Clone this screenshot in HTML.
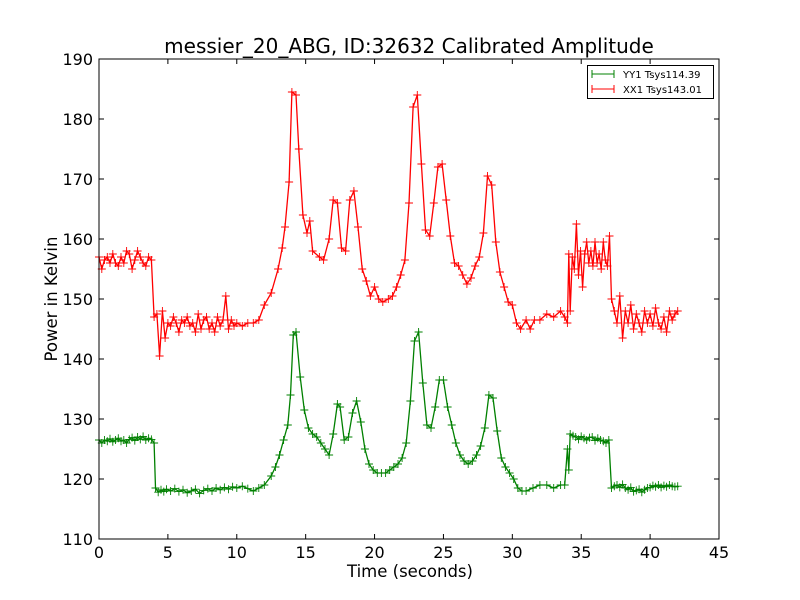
<!DOCTYPE html>
<html><head><meta charset="utf-8"><style>
body{margin:0;background:#fff;}
svg{display:block;font-family:"DejaVu Sans","Liberation Sans",sans-serif;}
</style></head><body>
<svg id="chart" width="800" height="600" viewBox="0 0 800 600" xmlns="http://www.w3.org/2000/svg">
<rect x="0" y="0" width="800" height="600" fill="#fff"/>
<text x="409" y="53" font-size="20" text-anchor="middle">messier_20_ABG, ID:32632 Calibrated Amplitude</text>
<text x="410" y="577" font-size="16.5" text-anchor="middle">Time (seconds)</text>
<text x="57" y="299" font-size="16.5" text-anchor="middle" transform="rotate(-90 57 299)">Power in Kelvin</text>
<g id="plot"></g>
<g id="axes"></g>
<g id="legend">
<rect x="587.5" y="65.5" width="126" height="33" fill="#fff" stroke="#000" stroke-width="1"/>
<g>
<line x1="592" y1="74" x2="614" y2="74" stroke="green" stroke-width="1"/>
<path d="M592 70v8M614 70v8" stroke="green"/>
<text x="623" y="78" font-size="10">YY1 Tsys114.39</text></g>
<g>
<line x1="592" y1="89" x2="614" y2="89" stroke="red" stroke-width="1"/>
<path d="M592 85v8M614 85v8" stroke="red"/>
<text x="623" y="93" font-size="10">XX1 Tsys143.01</text></g>
</g>
</svg>
<script>
const xTicks=[0,5,10,15,20,25,30,35,40,45];
const yTicks=[110,120,130,140,150,160,170,180,190];
const redT=[0,0.2,0.4,0.6,0.8,1,1.2,1.4,1.6,1.8,2,2.2,2.4,2.6,2.8,3,3.2,3.4,3.6,3.8,
4.0,4.2,4.4,4.6,4.8,5.0,5.2,5.4,5.6,5.8,6.0,6.2,6.4,6.6,6.8,7.0,7.2,7.4,7.6,7.8,8.0,8.2,8.4,8.6,8.8,9.0,9.2,9.4,9.6,9.8,10.0,10.4,10.8,11.2,11.6,
12,12.5,13,13.3,13.5,13.8,14.0,14.3,14.5,14.8,15.1,15.3,15.5,16,16.3,16.7,17.0,17.3,17.6,17.9,18.2,18.5,18.8,19.1,19.4,19.7,20,20.3,20.6,21,21.3,21.6,21.9,22.2,22.5,22.8,23.1,23.4,23.7,24.0,24.3,24.6,24.9,25.2,25.5,25.8,26.1,26.4,26.7,27.0,27.3,27.6,27.9,28.2,28.5,28.8,29.1,29.4,29.7,30,30.3,30.6,31,31.3,31.6,32,32.5,33,33.5,33.8,
34.0,34.1,34.2,34.35,34.5,34.65,34.8,34.95,35.1,35.25,35.4,35.55,35.7,35.85,36.0,36.15,36.3,36.45,36.6,36.75,36.9,37.05,37.2,37.4,37.6,37.8,38.0,38.2,38.4,38.6,38.8,39.0,39.2,39.4,39.6,39.8,40.0,40.2,40.4,40.6,40.8,41.0,41.2,41.4,41.6,41.8,42.0];
const redV=[157,155,156.5,157,156,157.5,156,155.5,157,156,158,157.5,155,156.5,158,157,156,155.5,157,156.5,
147,147.5,140.5,148,143.5,146,145.5,147,146,144.5,146.5,146,147,145.5,146,144.5,147.5,145,146.5,147,145,146,144.5,147,145.5,146.5,150.5,145,146.5,145.5,146,145.5,146,146,146.5,
149,151,155,158.5,162,169.5,184.5,184,175,164,161,163,158,157,156.5,160,166.5,166,158.5,158,166.5,168,162,155,153,150.5,152,150,149.5,150,150.5,152,154,156.5,166,182,184,172.5,161.5,160.5,166,172,172.5,166.5,160.5,156,155.5,154,152.5,153.5,155.5,157,161,170.5,169,159.5,154.5,152,149.5,149,146,145,146.5,145,146.5,146.5,147.5,147,148,147,
146,157.5,148,157,155,162.5,154,158,152,157.5,159.5,156,158,155.5,159.5,156,157.5,155,159.5,156.5,155.5,160.5,150,148,146,150.5,143.5,148,146,149,145,147.5,146,144.5,148,146,147.5,145.5,148.5,146,145,147,144.5,148,146.5,147.5,148];
const greenT=[0,0.2,0.4,0.6,0.8,1,1.2,1.4,1.6,1.8,2,2.2,2.4,2.6,2.8,3,3.2,3.4,3.6,3.8,4.0,
4.1,4.3,4.5,4.7,4.9,5.2,5.5,5.8,6.1,6.4,6.7,7.0,7.3,7.6,7.9,8.2,8.5,8.8,9.1,9.4,9.7,10.0,10.4,10.8,11.2,11.6,
12,12.5,12.8,13.1,13.4,13.7,13.9,14.1,14.3,14.6,14.9,15.2,15.5,15.8,16.1,16.4,16.7,17.0,17.3,17.5,17.8,18.1,18.4,18.7,19.0,19.3,19.6,19.9,20.2,20.5,20.8,21.1,21.4,21.7,22.0,22.3,22.6,22.9,23.2,23.5,23.8,24.1,24.4,24.7,25.0,25.3,25.6,25.9,26.2,26.5,26.8,27.1,27.4,27.7,28.0,28.3,28.6,28.9,29.2,29.5,29.8,30.1,30.4,30.7,31,31.5,32,32.5,33,33.5,33.8,
34.0,34.1,34.2,34.4,34.6,34.8,35.0,35.2,35.4,35.6,35.8,36.0,36.2,36.4,36.6,36.8,37.0,
37.2,37.4,37.6,37.8,38.0,38.2,38.4,38.6,38.8,39.0,39.2,39.4,39.6,39.8,40.0,40.2,40.4,40.6,40.8,41.0,41.2,41.4,41.6,41.8,42.0];
const greenV=[126.5,126,126.5,126.3,126.7,126.2,126.5,126.8,126.3,126.5,126,126.6,126.9,126.4,127,126.6,127.1,126.5,126.8,126.6,126,
118.5,117.8,118.2,117.9,118.3,118,118.4,117.9,118.2,117.7,118,118.3,117.6,118.1,118.4,118,118.5,118.2,118.6,118.3,118.7,118.5,118.8,118.4,118,118.5,
119,120.5,122,124,126.5,129,134,144,144.5,137,131.5,128.5,127.5,127,126,125,124,127.5,132.5,132,126.5,127,131,133,129.5,125,122.5,121.5,121,121,121,121.5,122,122.5,123.5,126,133,143,144.5,136,129,128.5,132,136.5,136.5,132,129,126,124,123,122.5,123,124,125.5,128.5,134,133.5,128,123.5,122,121,120,118.5,118,118,118.5,119,119,118.5,119,119,
125,121.5,127.5,127.2,127,126.6,127.1,126.8,126.5,126.9,127,126.4,126.8,126.5,126.3,126,126.5,
118.5,118.8,119,118.6,119.1,118.5,118.2,118.6,117.9,118.1,118.3,117.8,118.2,118.5,118.6,118.9,118.7,119,118.6,118.9,118.7,119,118.8,118.7,118.8];

const X0=99,X1=719,Y0=539,Y1=59;
const sx=v=>X0+(v-0)/(45-0)*(X1-X0);
const sy=v=>Y0-(v-110)/(190-110)*(Y0-Y1);
const NS='http://www.w3.org/2000/svg';
const plot=document.getElementById('plot'), axes=document.getElementById('axes');
function mk(tag,parent){const e=document.createElementNS(NS,tag);parent.appendChild(e);return e;}
function series(T,V,color,name){
  const g=mk('g',plot);
  
  
  const p=mk('polyline',g);
  
  
  p.setAttribute('points',T.map((t,i)=>sx(t).toFixed(1)+','+sy(V[i]).toFixed(1)).join(' '));
  p.setAttribute('fill','none');p.setAttribute('stroke',color);p.setAttribute('stroke-width','1.3');
  let d='';
  T.forEach((t,i)=>{const x=sx(t),y=sy(V[i]);d+='M'+(x-4).toFixed(1)+' '+y.toFixed(1)+'h8M'+x.toFixed(1)+' '+(y-4).toFixed(1)+'v8';});
  const m=mk('path',g);
  
  
  m.setAttribute('d',d);m.setAttribute('stroke',color);m.setAttribute('stroke-width','0.9');
}
series(greenT,greenV,'green','series-yy1');
series(redT,redV,'red','series-xx1');
const frame=mk('rect',axes);


frame.setAttribute('x',X0);frame.setAttribute('y',Y1);frame.setAttribute('width',X1-X0);frame.setAttribute('height',Y0-Y1);
frame.setAttribute('fill','none');frame.setAttribute('stroke','#000');
let td='';
xTicks.forEach(v=>{const x=sx(v);td+='M'+x+' '+Y0+'v-5M'+x+' '+Y1+'v5';
  const t=mk('text',axes);
  
  
  t.setAttribute('x',x);t.setAttribute('y',Y0+19);t.setAttribute('font-size','16');t.setAttribute('text-anchor','middle');t.textContent=v;});
yTicks.forEach(v=>{const y=sy(v);td+='M'+X0+' '+y+'h5M'+X1+' '+y+'h-5';
  const t=mk('text',axes);
  
  
  t.setAttribute('x',X0-6);t.setAttribute('y',y+6);t.setAttribute('font-size','16');t.setAttribute('text-anchor','end');t.textContent=v;});
const ticks=mk('path',axes);


ticks.setAttribute('d',td);ticks.setAttribute('stroke','#000');
</script>
</body></html>
